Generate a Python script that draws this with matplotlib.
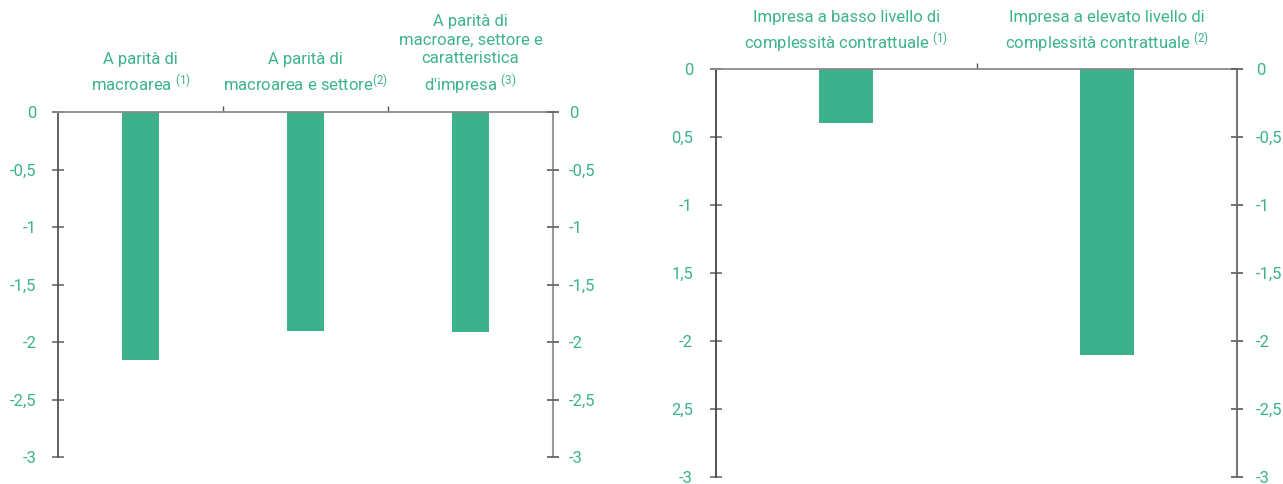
import matplotlib
matplotlib.use("Agg")
import matplotlib.pyplot as plt
from matplotlib.ticker import FixedLocator

plt.rcParams['font.family'] = ['Roboto', 'DejaVu Sans']
plt.rcParams['mathtext.fontset'] = 'custom'
plt.rcParams['mathtext.rm'] = 'Roboto'
plt.rcParams['mathtext.it'] = 'Roboto:italic'
plt.rcParams['mathtext.bf'] = 'Roboto:bold'

# ---- data ----
left_categories = [
    "A parità di\nmacroarea $^{\\mathrm{(1)}}$",
    "A parità di\nmacroarea e settore$^{\\mathrm{(2)}}$",
    "A parità di\nmacroare, settore e\ncaratteristica\nd'impresa $^{\\mathrm{(3)}}$",
]
left_values = [-2.16, -1.90, -1.91]

right_categories = [
    "Impresa a basso livello di\ncomplessità contrattuale $^{\\mathrm{(1)}}$",
    "Impresa a elevato livello di\ncomplessità contrattuale $^{\\mathrm{(2)}}$",
]
right_values = [-0.40, -2.10]

tick_values = [0, -0.5, -1, -1.5, -2, -2.5, -3]
left_tick_labels = ["0", "-0,5", "-1", "-1,5", "-2", "-2,5", "-3"]
right_panel_left_labels = ["0", "0,5", "-1", "1,5", "-2", "2,5", "-3"]
right_panel_right_labels = ["0", "-0,5", "-1", "-1,5", "-2", "-2,5", "-3"]

GREEN = "#3DB08C"
TEXT = "#3DB38A"
W, H = 1283, 484
fig = plt.figure(figsize=(W / 100, H / 100), dpi=100)


def px_axes(x0, x1, ytop, ybot):
    return fig.add_axes([x0 / W, (H - ybot) / H, (x1 - x0) / W, (ybot - ytop) / H])


def style(ax, n, values, cats, bar_w, lab_left, lab_right, left_col, right_col,
          lpad, rpad, head_off):
    xs = [i + 0.5 for i in range(n)]
    ax.bar(xs, values, width=bar_w, color=GREEN, zorder=2)
    ax.set_xlim(0, n)
    ax.set_ylim(-3, 0)
    ax.spines['bottom'].set_visible(False)
    ax.spines['top'].set_color('#8a8a8a')
    ax.spines['top'].set_linewidth(1.3)
    ax.spines['left'].set_color(left_col)
    ax.spines['right'].set_color(right_col)
    ax.spines['left'].set_linewidth(1.3)
    ax.spines['right'].set_linewidth(1.5)
    ax.yaxis.set_major_locator(FixedLocator(tick_values))
    ax.set_yticklabels(lab_left)
    ax.tick_params(axis='y', which='both', direction='inout', length=8,
                   width=1.3, color='#777777', labelcolor=TEXT, labelsize=12,
                   pad=lpad)
    ax.xaxis.set_ticks_position('top')
    ax.set_xticks(list(range(1, n)))
    ax.set_xticklabels([])
    ax.tick_params(axis='x', direction='out', length=4, width=1, color='#555555')
    ax2 = ax.twinx()
    ax2.set_ylim(-3, 0)
    for s in ax2.spines.values():
        s.set_visible(False)
    ax2.yaxis.set_major_locator(FixedLocator(tick_values))
    ax2.set_yticklabels(lab_right)
    ax2.tick_params(axis='y', direction='inout', length=8, width=1.3,
                    color='#666666', labelcolor=TEXT, labelsize=12, pad=rpad)
    for x, c in zip(xs, cats):
        ax.annotate(c, xy=(x, 1), xycoords=('data', 'axes fraction'),
                    xytext=(0, head_off), textcoords='offset points',
                    ha='center', va='baseline', color=TEXT, fontsize=12,
                    linespacing=1.32, multialignment='center')


axL = px_axes(58, 553, 112, 457)
style(axL, 3, left_values, left_categories, 0.23, left_tick_labels,
      left_tick_labels, '#555555', '#9a9a9a', 11.5, 7.5, 15)

axR = px_axes(716, 1237, 69, 477)
style(axR, 2, right_values, right_categories, 0.207, right_panel_left_labels,
      right_panel_right_labels, '#444444', '#777777', 12.5, 9.5, 14)

fig.savefig("out.png", dpi=100)
